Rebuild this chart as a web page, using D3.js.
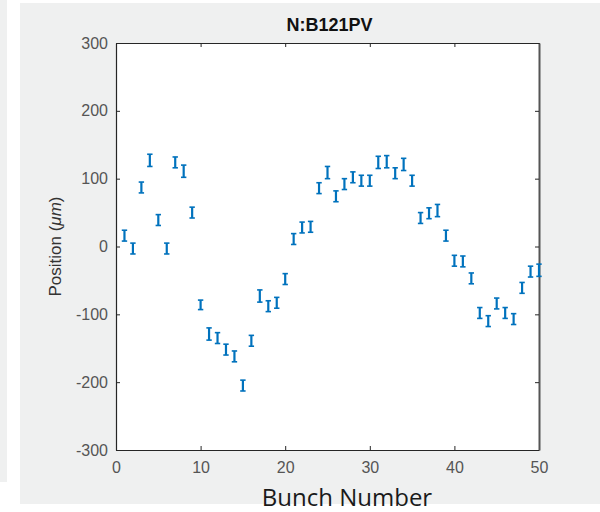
<!DOCTYPE html>
<html><head><meta charset="utf-8">
<script src="https://cdn.jsdelivr.net/npm/d3@7"></script>
<style>body{margin:0;background:#fff;}svg{display:block;}</style>
</head><body>
<svg id="c" width="600" height="512"></svg>
<script>
const bunches = d3.range(1, 51);
const positions = [16, -3, 87, 127, 39, -3, 124, 111, 50, -86,
  -129, -135, -152, -162, -205, -139, -73, -88, -83, -48,
  11, 28, 29, 86, 109, 74, 92, 102, 97, 97,
  124, 125, 108, 121, 97, 42, 49, 53, 16, -21,
  -22, -47, -98, -110, -84, -98, -107, -61, -37, -35];
const errors = [8, 8, 8, 9, 8, 8, 8, 9, 8, 7,
  9, 8, 8, 8, 8, 8, 9, 8, 8, 8,
  8, 8, 8, 8, 9, 8, 8, 8, 8, 8,
  9, 9, 8, 9, 8, 8, 8, 9, 8, 8,
  8, 8, 8, 8, 8, 8, 8, 8, 8, 9];
const xTicks = [0, 10, 20, 30, 40, 50];
const yTicks = [-300, -200, -100, 0, 100, 200, 300];
const title = "N:B121PV";
const xLabel = "Bunch Number";

const svg = d3.select("#c");
// background panels
svg.append("rect").attr("x", 0).attr("y", 0).attr("width", 7).attr("height", 482).attr("fill", "#eff0f0");
svg.append("rect").attr("x", 20).attr("y", 3).attr("width", 580).attr("height", 501).attr("fill", "#eff0f0");

const L = 116, R = 539, T = 43, B = 450;
const x = d3.scaleLinear().domain([0, 50]).range([L, R]);
const y = d3.scaleLinear().domain([-300, 300]).range([B, T]);

svg.append("rect").attr("x", L).attr("y", T).attr("width", R - L).attr("height", B - T).attr("fill", "#fff");

const font = "'Liberation Sans', Arial, Helvetica, sans-serif";
const tickLen = 4;
const fmt = d => String(d);
// axes
const gx = svg.append("g").attr("transform", `translate(0,${B})`)
  .call(d3.axisBottom(x).tickValues(xTicks).tickFormat(fmt).tickSizeInner(-tickLen).tickSizeOuter(0).tickPadding(12));
const gxt = svg.append("g").attr("transform", `translate(0,${T})`)
  .call(d3.axisTop(x).tickValues(xTicks).tickSizeInner(-tickLen).tickSizeOuter(0).tickFormat(""));
const gy = svg.append("g").attr("transform", `translate(${L},0)`)
  .call(d3.axisLeft(y).tickValues(yTicks).tickFormat(fmt).tickSizeInner(-tickLen).tickSizeOuter(0).tickPadding(8));
const gyr = svg.append("g").attr("transform", `translate(${R},0)`)
  .call(d3.axisRight(y).tickValues(yTicks).tickSizeInner(-tickLen).tickSizeOuter(0).tickFormat(""));
[gx, gxt, gy, gyr].forEach(g => {
  g.select(".domain").attr("stroke", "#262626").attr("stroke-width", 1.2);
  g.selectAll(".tick line").attr("stroke", "#262626");
  g.selectAll("text").attr("fill", "#555").attr("font-size", 16).attr("font-family", font);
});
gyr.select(".domain").attr("stroke", "#555").attr("stroke-width", 2);

// error bars
const blue = "#0072BD";
const eb = svg.append("g").attr("stroke", blue).attr("stroke-width", 1.6).attr("fill", "none");
bunches.forEach((b, i) => {
  const cx = x(b), y1 = y(positions[i] + errors[i]), y0 = y(positions[i] - errors[i]);
  eb.append("line").attr("x1", cx).attr("x2", cx).attr("y1", y1).attr("y2", y0).attr("stroke-width", 2.2);
  eb.append("line").attr("x1", cx - 2.7).attr("x2", cx + 2.7).attr("y1", y1).attr("y2", y1);
  eb.append("line").attr("x1", cx - 2.7).attr("x2", cx + 2.7).attr("y1", y0).attr("y2", y0);
});

// title
svg.append("text").attr("x", (L + R) / 2 + 2).attr("y", 31).attr("text-anchor", "middle")
  .attr("font-family", font).attr("font-weight", "bold").attr("font-size", 18).attr("fill", "#111").text(title);
// y label
const yl = svg.append("text").attr("transform", `translate(61,${(T + B) / 2}) rotate(-90)`)
  .attr("text-anchor", "middle").attr("font-family", font).attr("font-size", 17).attr("fill", "#333");
yl.append("tspan").text("Position  (");
yl.append("tspan").attr("font-style", "italic").text("μm");
yl.append("tspan").text(")");
// x label
svg.append("text").attr("x", 347).attr("y", 506).attr("text-anchor", "middle")
  .attr("font-family", "'Open Sans', sans-serif").attr("font-size", 24).attr("fill", "#1a1a1a").text(xLabel);
</script>
</body></html>
